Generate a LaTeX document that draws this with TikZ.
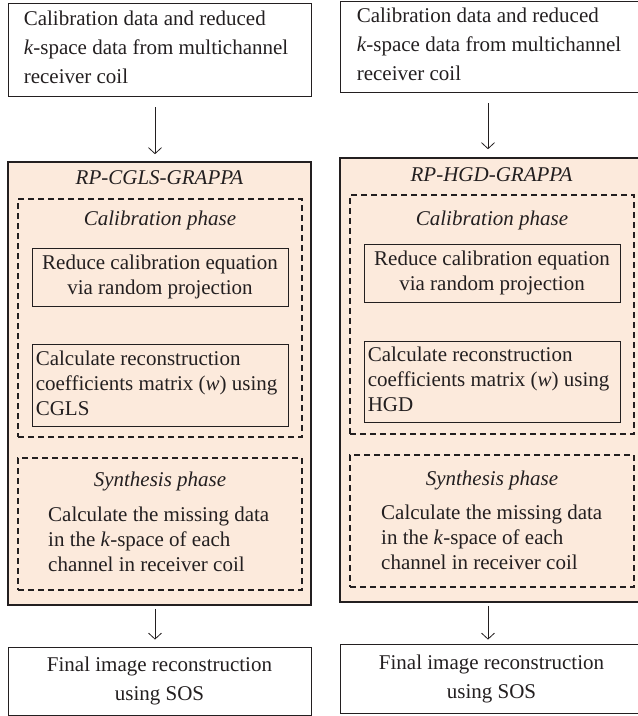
\documentclass[tikz,border=0pt]{standalone}
\usepackage{fontspec}
\setmainfont{Liberation Serif}
\usetikzlibrary{arrows.meta,calc}
\definecolor{peach}{RGB}{252,234,220}
\definecolor{ink}{RGB}{35,31,32}
\begin{document}
\begin{tikzpicture}[x=1pt,y=-1pt,
  every node/.style={text=ink},
  big/.style={font=\fontsize{21}{29}\selectfont},
  small/.style={font=\fontsize{21}{25}\selectfont},
  itl/.style={font=\fontsize{21}{29}\selectfont\itshape},
  databox/.style={draw=ink, line width=0.8pt, inner sep=0pt, big},
  rpbox/.style={draw=ink, line width=1.6pt, fill=peach, inner sep=0pt},
  phasebox/.style={draw=ink, line width=1.2pt, dash pattern=on 6pt off 4pt, inner sep=0pt},
  stepbox/.style={draw=ink, line width=0.8pt, inner sep=0pt, small},
  flow/.style={draw=ink, line width=0.8pt, -{Straight Barb[length=6pt,width=13pt]}},
]
\clip (0,0) rectangle (638,716);
\useasboundingbox (0,0) rectangle (638,716);

% ---------------- left column ----------------
\node[databox, minimum width=303, minimum height=93] (top1) at (159.5,49.5) {};
\node[big, align=left, anchor=west, inner sep=0pt] (top1t) at ($(top1.west)+(16,-2)$)
  {Calibration data and reduced\\\textit{k}-space data from multichannel\\receiver coil};
\node[rpbox, minimum width=303, minimum height=443] (rp1) at (159.5,383.5) {};
\node[itl] (t1) at (159.5,178) {RP-CGLS-GRAPPA};
\node[phasebox, minimum width=284, minimum height=238] (cal1) at (160,318) {};
\node[itl] (cp1) at (160,220) {Calibration phase};
\node[stepbox, minimum width=256, minimum height=58, align=center] (b11) at (160,277)
  {Reduce calibration equation\\via random projection};
\node[stepbox, minimum width=256, minimum height=82] (b12) at (160,385) {};
\node[small, align=left, anchor=west, inner sep=0pt] (b12t) at ($(b12.west)+(4,-2)$)
  {Calculate reconstruction\\coefficients matrix (\textit{w}) using\\CGLS};
\node[phasebox, minimum width=284, minimum height=132] (syn1) at (160,524) {};
\node[itl] (sp1) at (160,481) {Synthesis phase};
\node[small, align=left, anchor=west, inner sep=0pt] (st1) at (48,539)
  {Calculate the missing data\\in the \textit{k}-space of each\\channel in receiver coil};
\node[databox, minimum width=303, minimum height=68, align=center] (fin1) at (159.5,681)
  {Final image reconstruction\\using SOS};
\coordinate (ax1) at (155,0);
\draw[flow, shorten <=11pt, shorten >=7pt] (top1.south -| ax1) -- (rp1.north -| ax1);
\draw[flow, shorten <=3pt, shorten >=7pt] (rp1.south -| ax1) -- (fin1.north -| ax1);

% ---------------- right column ----------------
\node[databox, minimum width=303, minimum height=91] (top2) at (491.5,46.5) {};
\node[big, align=left, anchor=west, inner sep=0pt] (top2t) at ($(top2.west)+(17,-2)$)
  {Calibration data and reduced\\\textit{k}-space data from multichannel\\receiver coil};
\node[rpbox, minimum width=303, minimum height=444] (rp2) at (491.5,380) {};
\node[itl] (t2) at (491.5,175) {RP-HGD-GRAPPA};
\node[phasebox, minimum width=284, minimum height=239] (cal2) at (492,314.5) {};
\node[itl] (cp2) at (492,220) {Calibration phase};
\node[stepbox, minimum width=256, minimum height=58, align=center] (b21) at (492,273)
  {Reduce calibration equation\\via random projection};
\node[stepbox, minimum width=256, minimum height=81] (b22) at (492,381.5) {};
\node[small, align=left, anchor=west, inner sep=0pt] (b22t) at ($(b22.west)+(4,-2)$)
  {Calculate reconstruction\\coefficients matrix (\textit{w}) using\\HGD};
\node[phasebox, minimum width=284, minimum height=132] (syn2) at (492,521) {};
\node[itl] (sp2) at (492,480) {Synthesis phase};
\node[small, align=left, anchor=west, inner sep=0pt] (st2) at (381,537)
  {Calculate the missing data\\in the \textit{k}-space of each\\channel in receiver coil};
\node[databox, minimum width=303, minimum height=69, align=center] (fin2) at (491.5,678.5)
  {Final image reconstruction\\using SOS};
\coordinate (ax2) at (488,0);
\draw[flow, shorten <=11pt, shorten >=8pt] (top2.south -| ax2) -- (rp2.north -| ax2);
\draw[flow, shorten <=3pt, shorten >=4pt] (rp2.south -| ax2) -- (fin2.north -| ax2);
\end{tikzpicture}
\end{document}
